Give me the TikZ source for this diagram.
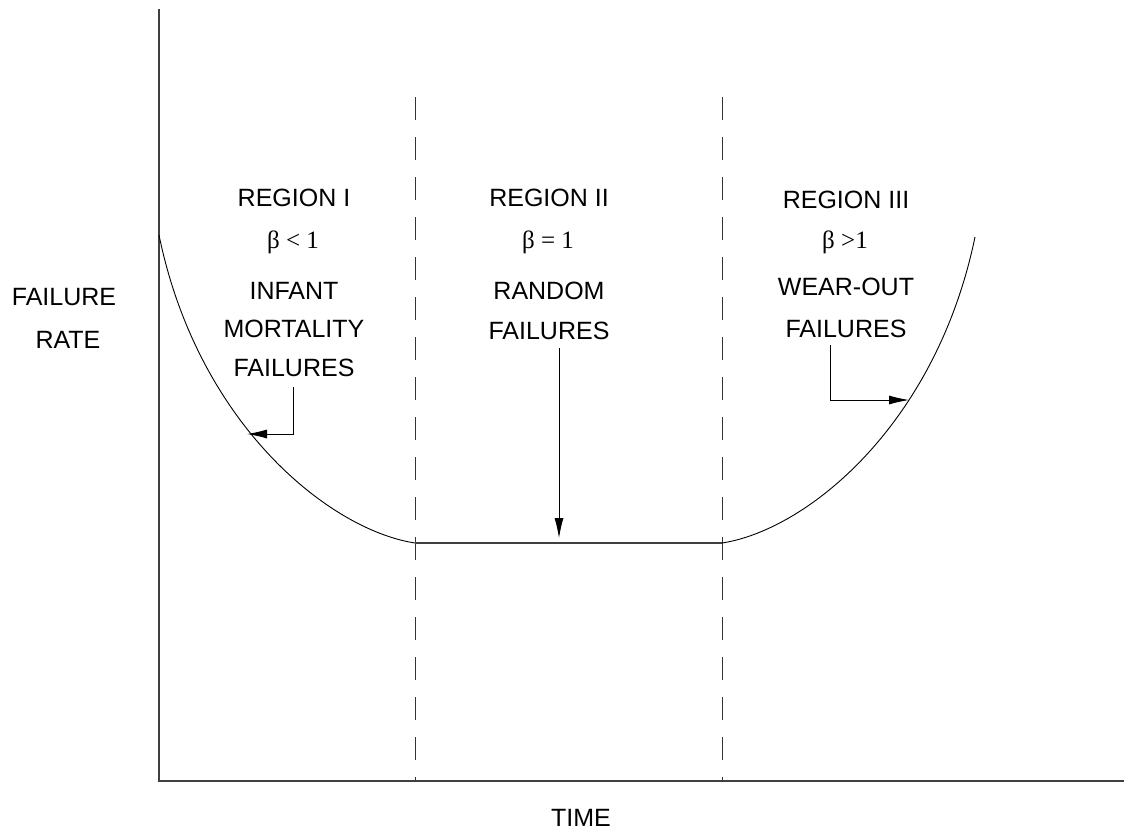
\documentclass[tikz,border=0pt]{standalone}
\usepackage{fontspec}
\setmainfont{Liberation Sans}
\newfontfamily\serifb{Liberation Serif}
\usetikzlibrary{arrows.meta}
\begin{document}
\begin{tikzpicture}[x=1pt,y=-1pt,
  lbl/.style={font=\fontsize{25}{28}\selectfont, inner sep=0pt, anchor=center},
  blbl/.style={font=\serifb\fontsize{25}{28}\selectfont, inner sep=0pt, anchor=center},
  axis/.style={line width=1.3pt, black!75},
  curve/.style={line width=0.9pt, black},
  sep/.style={line width=1pt, black!80, dash pattern=on 23pt off 17pt},
  arr/.style={line width=0.9pt, black, -{Latex[length=20pt,width=9pt]}}]
\useasboundingbox (0,0) rectangle (1125,831);
% axes
\coordinate (ytop) at (159,9);
\coordinate (orig) at (159,781);
\coordinate (xend) at (1124,781);
\draw[axis] (ytop) -- (orig) -- (xend);
% separators
\coordinate (s1t) at (415,97);
\coordinate (s1b) at (415,781);
\coordinate (s2t) at (722,97);
\coordinate (s2b) at (722,781);
\draw[sep] (s1t) -- (s1b);
\draw[sep] (s2t) -- (s2b);
% bathtub curve
\coordinate (c0) at (159,235);
\coordinate (c1) at (415,543);
\coordinate (c2) at (722,543);
\coordinate (c3) at (975,237);
\draw[curve] (c0) .. controls (198,425) and (330,530) .. (c1);
\draw[axis] (c1) -- (c2);
\draw[curve] (c2) .. controls (807,530) and (936,425) .. (c3);
% labels
\node[lbl] (yl1) at (64,297) {FAILURE};
\node[lbl] (yl2) at (68,340) {RATE};
\node[lbl] (xl) at (581,818) {TIME};
\node[lbl] (r1) at (294,198) {REGION I};
\node[blbl] (b1) at (293,242) {β < 1};
\node[lbl] (r1a) at (294,291) {INFANT};
\node[lbl] (r1b) at (294,329) {MORTALITY};
\node[lbl] (r1c) at (294,368) {FAILURES};
\node[lbl] (r2) at (549,198) {REGION II};
\node[blbl] (b2) at (548,242) {β = 1};
\node[lbl] (r2a) at (549,291) {RANDOM};
\node[lbl] (r2b) at (549,331) {FAILURES};
\node[lbl] (r3) at (846,200) {REGION III};
\node[blbl] (b3) at (845,242) {β >1};
\node[lbl] (r3a) at (846,287) {WEAR-OUT};
\node[lbl] (r3b) at (846,329) {FAILURES};
% arrows
\coordinate (a1s) at (293,387);
\coordinate (a1e) at (247,434);
\draw[arr] (a1s) |- (a1e);
\coordinate (a2s) at (559,348);
\coordinate (a2e) at (559,538);
\draw[arr] (a2s) -- (a2e);
\coordinate (a3s) at (830,345);
\coordinate (a3e) at (909,400);
\draw[arr] (a3s) |- (a3e);
\end{tikzpicture}
\end{document}
